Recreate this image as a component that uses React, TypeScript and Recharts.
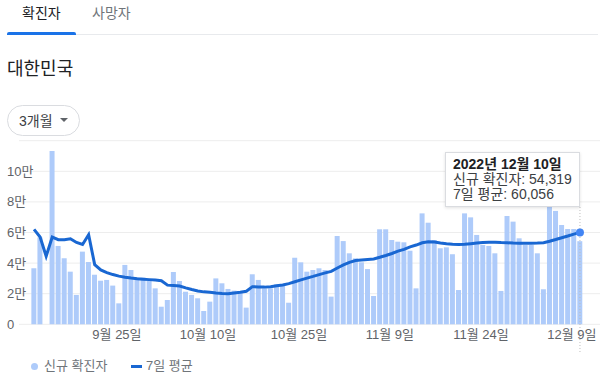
import React from 'react';
import { ComposedChart, Bar, Line, XAxis, YAxis, CartesianGrid, ReferenceLine } from 'recharts';

const dates = [
  '9/11','9/12','9/13','9/14','9/15','9/16','9/17','9/18','9/19','9/20','9/21','9/22','9/23','9/24','9/25','9/26','9/27','9/28','9/29','9/30',
  '10/1','10/2','10/3','10/4','10/5','10/6','10/7','10/8','10/9','10/10','10/11','10/12','10/13','10/14','10/15','10/16','10/17','10/18','10/19','10/20',
  '10/21','10/22','10/23','10/24','10/25','10/26','10/27','10/28','10/29','10/30','10/31',
  '11/1','11/2','11/3','11/4','11/5','11/6','11/7','11/8','11/9','11/10','11/11','11/12','11/13','11/14','11/15','11/16','11/17','11/18','11/19','11/20',
  '11/21','11/22','11/23','11/24','11/25','11/26','11/27','11/28','11/29','11/30',
  '12/1','12/2','12/3','12/4','12/5','12/6','12/7','12/8','12/9','12/10',
];

const newCases: (number | null)[] = [
  36600, 56800, null, 113300, 51200, 43100, 34400, 19200, 47500, 40700,
  32400, 28500, 29000, 25300, 13700, 38800, 35500, 30500, 30500, 28300,
  23500, 11500, 15900, 34200, 28300, 21300, 19200, 17000, 8700, 14800,
  30000, 26800, 23100, 22000, 21800, 10900, 32700, 29000, 23500, 23500,
  26100, 25700, 14100, 43500, 40500, 34400, 35500, 36600, 35500, 18100,
  57700, 54400, 46400, 43100, 40500, 36100, 18500, 62100, 62100, 55100,
  54000, 53600, 48100, 23500, 72500, 66400, 55100, 49700, 50300, 45800,
  22400, 72500, 69900, 58400, 51800, 51200, 46400, 21800, 70800, 67100,
  56200, 51800, 51800, 46400, 22900, 76900, 74100, 64900, 62300, 62300,
  54319,
];

const avg7 = [
  62000, 57000, 44500, 57000, 55300, 55300, 55900, 53500, 52200, 58500,
  39000, 35500, 33800, 32500, 31500, 30800, 30200, 29800, 29500, 29200,
  28900, 28500, 25600, 25300, 25000, 23800, 22700, 21800, 21200, 20900,
  20500, 20200, 20000, 20500, 21000, 21600, 24600, 24400, 24300, 24600,
  25200, 25700, 26600, 27800, 29000, 30200, 31300, 32500, 33600, 34600,
  36800, 38800, 40500, 41700, 42100, 42400, 42700, 43800, 45000, 46300,
  47800, 49000, 50600, 51800, 53300, 53900, 53800, 53200, 52700, 52300,
  52100, 52300, 52700, 53100, 53500, 53700, 53600, 53400, 53300, 53100,
  53000, 53000, 53000, 53100, 53300, 54300, 55400, 56600, 57700, 58900,
  60056,
];

const tickDates = ['9/25', '10/10', '10/25', '11/9', '11/24', '12/9'];
const tickLabels = ['9월 25일', '10월 10일', '10월 25일', '11월 9일', '11월 24일', '12월 9일'];
const yTicks = [0, 20000, 40000, 60000, 80000, 100000];
const yTickLabels = ['0', '2만', '4만', '6만', '8만', '10만'];
const seriesNames = ['신규 확진자', '7일 평균'];
const tabs = ['확진자', '사망자'];
const year = 2022;

const W = 615;
const H = 383;
const FONT = "'Liberation Sans','Noto Sans CJK KR',sans-serif";
const BAR_COLOR = '#aecbfa';
const LINE_COLOR = '#1967d2';
const LABEL_COLOR = '#5f6368';

const data = dates.map((d, i) => ({ date: d, cases: newCases[i], avg: avg7[i] }));
const last = data.length - 1;

const YTick = (p: any) => {
  const idx = yTicks.indexOf(p.payload.value);
  return (
    <text x={7} y={p.y} dy={4.5} textAnchor="start" fontSize={13} fill={LABEL_COLOR} fontFamily={FONT}>
      {idx >= 0 ? yTickLabels[idx] : ''}
    </text>
  );
};

const XTick = (p: any) => {
  const idx = tickDates.indexOf(p.payload.value);
  return (
    <text x={p.x} dx={-2} y={338.5} textAnchor="middle" fontSize={13} fill={LABEL_COLOR} fontFamily={FONT}>
      {idx >= 0 ? tickLabels[idx] : ''}
    </text>
  );
};

const renderDot = (p: any) => {
  if (p.index === last) {
    return <circle key={`dot-${p.index}`} cx={p.cx} cy={p.cy} r={4} fill="#4285f4" stroke="none" />;
  }
  return <g key={`dot-${p.index}`} />;
};

const gridLine = (p: any) => (
  <line key={p.key ?? `g-${p.index}-${p.y1}`} x1={p.x1 - 12} x2={p.x2 + 17} y1={p.y1} y2={p.y2} stroke="#ededed" strokeWidth={1} />
);

const hoverLine = (p: any) => (
  <line x1={p.x1} x2={p.x2} y1={207} y2={352} stroke="#bdbdbd" strokeWidth={1} strokeDasharray="1 2" />
);

export default function App() {
  const [m, d] = dates[last].split('/');
  const title = `${year}년 ${m}월 ${d}일`;
  const casesText = (newCases[last] ?? 0).toLocaleString('en-US');
  const avgText = avg7[last].toLocaleString('en-US');

  return (
    <div style={{ position: 'absolute', left: 0, top: 0, width: W, height: H, background: '#fff', fontFamily: FONT, overflow: 'hidden' }}>
      {/* tabs */}
      <div style={{ position: 'absolute', left: 22, top: 3, fontSize: 14, lineHeight: '20px', color: '#202124' }}>{tabs[0]}</div>
      <div style={{ position: 'absolute', left: 92, top: 3, fontSize: 14, lineHeight: '20px', color: '#70757a' }}>{tabs[1]}</div>
      <div style={{ position: 'absolute', left: 7, top: 34, width: 591, height: 1, background: '#e8eaed' }} />
      <div style={{ position: 'absolute', left: 7, top: 32, width: 69, height: 3, background: '#1a73e8', borderRadius: '2px 2px 0 0' }} />

      {/* title */}
      <div style={{ position: 'absolute', left: 7, top: 57, fontSize: 18, lineHeight: '24px', color: '#202124' }}>대한민국</div>

      {/* dropdown */}
      <div style={{ position: 'absolute', left: 7, top: 105, width: 73, height: 31, boxSizing: 'border-box', border: '1px solid #dadce0', borderRadius: 16 }} />
      <div style={{ position: 'absolute', left: 19, top: 111, fontSize: 14, lineHeight: '20px', color: '#3c4043' }}>3개월</div>
      <div style={{ position: 'absolute', left: 60, top: 118, width: 0, height: 0, borderLeft: '4px solid transparent', borderRight: '4px solid transparent', borderTop: '4px solid #5f6368' }} />

      {/* chart */}
      <div style={{ position: 'absolute', left: 0, top: 0 }}>
        <ComposedChart width={W} height={H} data={data} margin={{ top: 140.7, right: 32, bottom: 28.7, left: 0 }} barCategoryGap="6%">
          <CartesianGrid vertical={false} horizontal={gridLine} />
          <XAxis dataKey="date" ticks={tickDates} interval={0} tick={<XTick />} tickLine={false} axisLine={false} height={30} />
          <YAxis domain={[0, 120000]} ticks={yTicks} tick={<YTick />} tickLine={false} axisLine={false} width={31} />
          <Bar dataKey="cases" fill={BAR_COLOR} isAnimationActive={false} />
          <ReferenceLine x={dates[last]} shape={hoverLine} />
          <Line dataKey="avg" type="linear" stroke={LINE_COLOR} strokeWidth={3} dot={renderDot} activeDot={false} isAnimationActive={false} />
        </ComposedChart>
      </div>

      {/* tooltip */}
      <div style={{ position: 'absolute', left: 445, top: 152, width: 135, height: 55, boxSizing: 'border-box', background: '#fff', border: '1px solid #dadce0', boxShadow: '0 1px 3px rgba(0,0,0,0.12)', padding: '4px 7px', fontSize: 14, lineHeight: '15px', color: '#3c4043', whiteSpace: 'nowrap' }}>
        <div style={{ fontWeight: 'bold', color: '#202124' }}>{title}</div>
        <div>{seriesNames[0]}: {casesText}</div>
        <div>{seriesNames[1]}: {avgText}</div>
      </div>

      {/* legend */}
      <div style={{ position: 'absolute', left: 31, top: 363, width: 7, height: 7, borderRadius: '50%', background: BAR_COLOR }} />
      <div style={{ position: 'absolute', left: 44, top: 357, fontSize: 13, lineHeight: '18px', color: '#70757a' }}>{seriesNames[0]}</div>
      <div style={{ position: 'absolute', left: 131, top: 365, width: 11, height: 3, background: LINE_COLOR }} />
      <div style={{ position: 'absolute', left: 146, top: 357, fontSize: 13, lineHeight: '18px', color: '#70757a' }}>{seriesNames[1]}</div>
    </div>
  );
}
